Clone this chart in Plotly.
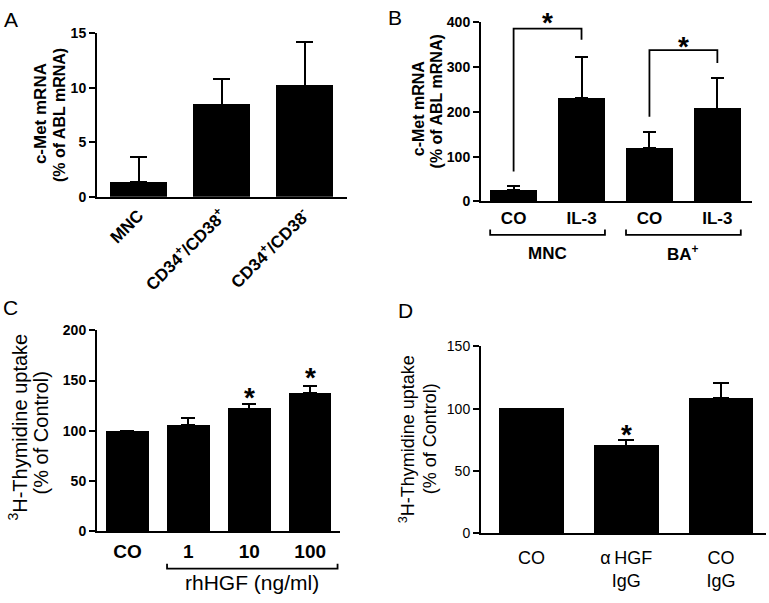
import plotly.graph_objects as go

W, H = 769, 603
FONT = "Liberation Sans, Arial, sans-serif"

# ---------------- data ----------------
a_labels = ["MNC", "CD34<sup>+</sup>/CD38<sup>+</sup>", "CD34<sup>+</sup>/CD38<sup>-</sup>"]
a_values = [1.35, 8.45, 10.2]
a_err = [2.3, 2.35, 4.0]

b_labels = ["CO", "IL-3", "CO", "IL-3"]
b_values = [25, 230, 119, 207]
b_err = [9, 93, 37, 69]
b_groups = ["MNC", "BA<sup>+</sup>"]
b_group_members = [(0, 1), (2, 3)]
# significance brackets: (left idx, right idx, left foot, top, right foot)
b_sig = [(0, 1, 67, 386, 361), (2, 3, 189, 338, 309)]
b_star_y = [417, 363]

c_labels = ["CO", "1", "10", "100"]
c_values = [100, 105.5, 122, 137.5]
c_err = [None, 7, 4.8, 7]
c_group = "rhHGF (ng/ml)"
c_group_members = (1, 3)
c_stars = [(2, 141), (3, 161)]

d_labels = ["CO", "\u03b1\u2009HGF<br>IgG", "CO<br>IgG"]
d_values = [100, 70, 108.5]
d_err = [None, 4.8, 12]
d_stars = [(1, 86)]


def px(x):
    return x / W


def py(y):
    return 1 - y / H


fig = go.Figure()


def add_bars(values, err, width, cap, xa, ya):
    idx = list(range(len(values)))
    fig.add_trace(go.Bar(
        x=idx, y=values, width=width,
        marker=dict(color="black", line=dict(width=0)),
        error_y=dict(type="data", symmetric=False, array=err,
                     arrayminus=[0] * len(values), color="black",
                     thickness=2, width=cap),
        xaxis=xa, yaxis=ya, showlegend=False, hoverinfo="skip",
    ))


add_bars(a_values, a_err, 0.69, 8.5, "x", "y")
add_bars(b_values, b_err, 0.69, 6.5, "x2", "y2")
add_bars(c_values, c_err, 0.70, 7, "x3", "y3")
add_bars(d_values, d_err, 0.68, 8, "x4", "y4")


def yax(dom, rng, dtick, size, weight):
    return dict(domain=[py(dom[1]), py(dom[0])], range=rng, dtick=dtick, tick0=0,
                showline=True, linewidth=2, linecolor="black",
                ticks="outside", ticklen=6, tickwidth=2, tickcolor="black",
                tickfont=dict(family=FONT, size=size, color="black", weight=weight),
                showgrid=False, zeroline=False, fixedrange=True)


def xax(dom, rng, labels, size, weight, ticklen, angle=0):
    return dict(domain=[px(dom[0]), px(dom[1])], range=rng,
                tickmode="array", tickvals=list(range(len(labels))), ticktext=labels,
                tickangle=angle,
                showline=True, linewidth=2, linecolor="black",
                ticks="outside" if ticklen > 0 else "", ticklen=max(ticklen, 1),
                tickcolor="rgba(0,0,0,0)",
                tickfont=dict(family=FONT, size=size, color="black", weight=weight),
                showgrid=False, zeroline=False, fixedrange=True)


A_X, A_Y = (97, 347), (26, 194)
B_X, B_Y = (481, 752), (14.7, 198.7)
C_X, C_Y = (97, 340), (331, 537.7)
D_X, D_Y = (481, 766), (347.7, 539.3)

layout = dict(
    width=W, height=H, margin=dict(l=0, r=0, t=0, b=0),
    paper_bgcolor="white", plot_bgcolor="white",
    font=dict(family=FONT, color="black"),
    bargap=0,
    xaxis=dict(xax(A_X, [-0.5, 2.51], a_labels, 17, "bold", 0, -45), anchor="y"),
    yaxis=dict(yax(A_Y, [0, 15], 5, 14, "bold"), anchor="x"),
    xaxis2=dict(xax(B_X, [-0.48, 3.51], b_labels, 17, "bold", 0), anchor="y2"),
    yaxis2=dict(yax(B_Y, [0, 400], 100, 14, "bold"), anchor="x2"),
    xaxis3=dict(xax(C_X, [-0.5, 3.49], c_labels, 19, "bold", 2), anchor="y3"),
    yaxis3=dict(yax(C_Y, [0, 200], 50, 14, "bold"), anchor="x3"),
    xaxis4=dict(xax(D_X, [-0.534, 2.475], d_labels, 18, "normal", 7), anchor="y4"),
    yaxis4=dict(yax(D_Y, [0, 150], 50, 14, "normal"), anchor="x4"),
)
fig.update_layout(**layout)

ann = []
# panel letters
for letter, x, y in [("A", 2, 12), ("B", 386, 10), ("C", 1, 308), ("D", 396, 311)]:
    ann.append(dict(text=letter, x=px(x), y=py(y), xref="paper", yref="paper",
                    xanchor="left", yanchor="middle", showarrow=False,
                    font=dict(family=FONT, size=21, color="black")))

# y-axis titles, one annotation per line
titles = [
    ("c-Met mRNA", 40, 109, 17, "bold"),
    ("(% of ABL mRNA)", 59, 110, 16, "bold"),
    ("c-Met mRNA", 418, 103, 16, "bold"),
    ("(% of ABL mRNA)", 436, 96, 16, "bold"),
    ("<sup>3</sup>H-Thymidine uptake", 18, 431, 20, "normal"),
    ("(% of Control)", 41, 437, 20, "normal"),
    ("<sup>3</sup>H-Thymidine uptake", 407, 443, 18, "normal"),
    ("(% of Control)", 430, 443, 18, "normal"),
]
for t, x, y, s, wgt in titles:
    ann.append(dict(text=t, x=px(x), y=py(y), xref="paper", yref="paper",
                    xanchor="center", yanchor="middle", textangle=-90, showarrow=False,
                    font=dict(family=FONT, size=s, color="black", weight=wgt)))

# stars (B stars in paper y so the one above the axis top is not hidden)
star_font = dict(family=FONT, size=28, color="black", weight="bold")
b_range = layout["yaxis2"]["range"]
for (l, r, _, _, _), sy in zip(b_sig, b_star_y):
    frac = (sy - b_range[0]) / (b_range[1] - b_range[0])
    ypaper = py(B_Y[1]) + frac * (py(B_Y[0]) - py(B_Y[1]))
    ann.append(dict(text="*", x=(l + r) / 2, y=ypaper, xref="x2", yref="paper", yshift=-8,
                    xanchor="center", yanchor="middle", showarrow=False, font=star_font))
for sx, sy in c_stars:
    ann.append(dict(text="*", x=sx, y=sy, xref="x3", yref="y3", yshift=-8,
                    xanchor="center", yanchor="middle", showarrow=False, font=star_font))
for sx, sy in d_stars:
    ann.append(dict(text="*", x=sx, y=sy, xref="x4", yref="y4", yshift=-8,
                    xanchor="center", yanchor="middle", showarrow=False, font=star_font))

# group labels
for g, (l, r) in zip(b_groups, b_group_members):
    ann.append(dict(text=g, x=(l + r) / 2, y=py(252), xref="x2", yref="paper",
                    showarrow=False, xanchor="center", yanchor="middle",
                    font=dict(family=FONT, size=17, color="black", weight="bold")))
c_l, c_r = c_group_members[0] - 0.35, c_group_members[1] + 0.45
ann.append(dict(text=c_group, x=(c_l + c_r) / 2, y=py(590), xref="x3", yref="paper",
                showarrow=False, xanchor="center", yanchor="middle",
                font=dict(family=FONT, size=21, color="black")))
fig.update_layout(annotations=ann)

shapes = []
line = dict(color="black", width=1.8)
for l, r, fl, top, fr in b_sig:
    shapes.append(dict(type="path", xref="x2", yref="y2",
                       path=f"M {l},{fl} L {l},{top} L {r},{top} L {r},{fr}", line=line))
for l, r in b_group_members:
    x0, x1 = l - 0.345, r + 0.345
    y0, y1 = py(233), py(227.5)
    shapes.append(dict(type="path", xref="x2", yref="paper",
                       path=f"M {x0},{y1} L {x0},{y0} L {x1},{y0} L {x1},{y1}", line=line))
y0, y1 = py(576), py(571)
shapes.append(dict(type="path", xref="x3", yref="paper",
                   path=f"M {c_l},{y1} L {c_l},{y0} L {c_r},{y0} L {c_r},{y1}", line=line))
fig.update_layout(shapes=shapes)

fig.write_html("out.html", config={"displayModeBar": False},
               post_script="document.body.style.margin='0px';")
